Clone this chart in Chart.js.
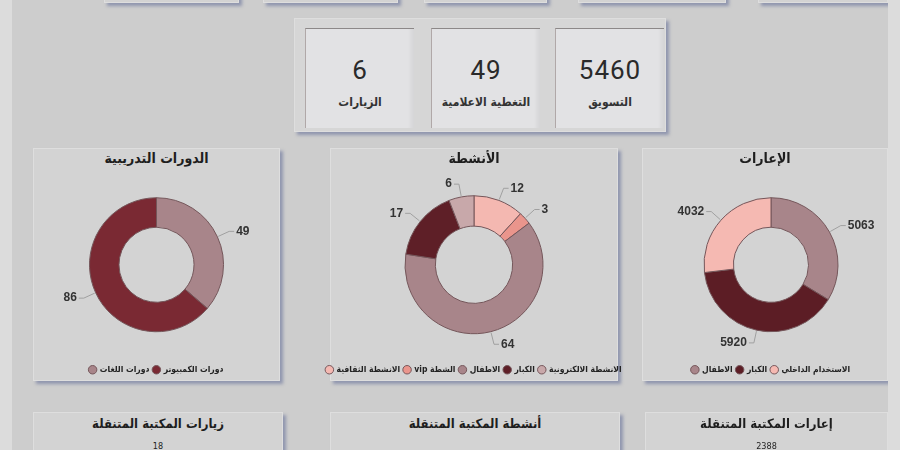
<!DOCTYPE html>
<html lang="ar">
<head>
<meta charset="utf-8">
<script src="https://cdn.jsdelivr.net/npm/chart.js@4"></script>
<style>
  html, body { margin: 0; padding: 0; }
  body { width: 900px; height: 450px; background: #dcdcdc; position: relative; overflow: hidden; font-family: Arial, "Liberation Sans", "DejaVu Sans", sans-serif; }
  #page { position: absolute; left: 12px; top: 0; width: 876px; height: 450px; background: #cdcdcd; overflow: hidden; }
  .card { position: absolute; background: #d3d3d3; border: 1px solid #dedede; box-shadow: 3px 3px 3px rgba(95, 105, 150, 0.55); box-sizing: border-box; }
  .title { position: absolute; left: 0; right: 0; text-align: center; font-weight: bold; color: #1e1e1e; direction: rtl; font-family: "DejaVu Sans Condensed", "DejaVu Sans", sans-serif; }
  .kpi { position: absolute; top: 27px; height: 100px; background: #e2e2e4; border-top: 1px solid #8c8888; border-left: 1px solid #b0a8a8; box-shadow: inset -7px 0 4px -4px rgba(0,0,0,0.06); box-sizing: border-box; }
  .kpi .num { position: absolute; left: 0; right: 0; top: 26px; text-align: center; font-family: Roboto, "DejaVu Sans Condensed", sans-serif; font-size: 26px; letter-spacing: 1px; color: #2a2a2a; line-height: 30px; }
  .kpi .lbl { position: absolute; left: 0; right: 0; top: 66px; text-align: center; font-size: 12px; font-weight: bold; color: #333; direction: rtl; font-family: "DejaVu Sans Condensed", "DejaVu Sans", sans-serif; }
  canvas { position: absolute; top: 0; }
</style>
</head>
<body>
<div id="page"></div>
<script>
// Library dashboard: KPI tiles plus three doughnut panels (loans, activities, courses).

const kpiValues = [6, 49, 5460];
const kpiLabels = ["الزيارات", "التغطية الاعلامية", "التسويق"];

const courseLabels = ["دورات اللغات", "دورات الكمبيوتر"];
const courseValues = [49, 86];
const courseColors = ["#a8858a", "#7a2933"];

const activityLabels = ["الانشطة الثقافية", "vip الشطة", "الاطفال", "الكبار", "الانشطة الالكترونية"];
const activityValues = [12, 3, 64, 17, 6];
const activityColors = ["#f4b8b1", "#ea958c", "#a8858a", "#5e1f27", "#c8a8aa"];

const loanLabels = ["الاطفال", "الكبار", "الاستخدام الداخلي"];
const loanValues = [5063, 5920, 4032];
const loanColors = ["#a8858a", "#5c1d25", "#f5b9b2"];

const bottomTitles = ["زيارات المكتبة المتنقلة", "أنشطة المكتبة المتنقلة", "إعارات المكتبة المتنقلة"];
const bottomValues = ["18", "", "2388"];

Chart.defaults.animation = false;
Chart.defaults.font.family = "Arial, 'Liberation Sans', 'DejaVu Sans', sans-serif";

const page = document.getElementById("page");
const PX = 12; // page offset from window left
const BLEED = 30; // canvas overhang on each side so the legend keeps one row

function box(x, y, w, h, cls) {
  const d = document.createElement("div");
  d.className = cls || "card";
  d.style.left = x - PX + "px";
  d.style.top = y + "px";
  d.style.width = w + "px";
  d.style.height = h + "px";
  page.appendChild(d);
  return d;
}

// top row cards, cut off by the window edge
[[104, 135], [263, 135], [424, 123], [578, 148], [758, 130]].forEach(([x, w]) => box(x, -30, w, 33));

// KPI group
const panel = box(294, 18, 372, 114);
panel.style.background = "#d6d6d6";
const kpiX = [304, 430, 554];
kpiValues.forEach((v, i) => {
  const k = document.createElement("div");
  k.className = "kpi";
  k.style.left = kpiX[i] - 294 + "px";
  k.style.top = "9px";
  k.style.width = "109px";
  k.innerHTML = `<div class="num">${v}</div><div class="lbl">${kpiLabels[i]}</div>`;
  panel.appendChild(k);
});

// leader-line value labels outside each slice
const leaderLabels = {
  id: "leaderLabels",
  afterDatasetsDraw(chart) {
    const ctx = chart.ctx;
    const values = chart.data.datasets[0].data;
    ctx.save();
    ctx.font = "bold 12px Arial, 'Liberation Sans', sans-serif";
    ctx.textBaseline = "middle";
    chart.getDatasetMeta(0).data.forEach((arc, i) => {
      const { x, y, startAngle, endAngle, outerRadius } = arc.getProps(["x", "y", "startAngle", "endAngle", "outerRadius"], true);
      const mid = (startAngle + endAngle) / 2;
      const c = Math.cos(mid), s = Math.sin(mid);
      const dir = c >= 0 ? 1 : -1;
      const x0 = x + c * (outerRadius + 1), y0 = y + s * (outerRadius + 1);
      const x1 = x + c * (outerRadius + 13), y1 = y + s * (outerRadius + 13);
      const x2 = x1 + dir * 5;
      ctx.strokeStyle = "#a0a0a0";
      ctx.lineWidth = 1;
      ctx.beginPath();
      ctx.moveTo(x0, y0);
      ctx.lineTo(x1, y1);
      ctx.lineTo(x2, y1);
      ctx.stroke();
      ctx.fillStyle = "#333";
      ctx.textAlign = dir > 0 ? "left" : "right";
      ctx.fillText(values[i], x2 + dir * 2, y1);
    });
    ctx.restore();
  },
};

function donutCard(x, w, title, labels, values, colors, radius, padLeft) {
  const card = box(x, 148, w, 233);
  card.style.overflow = "visible";
  const t = document.createElement("div");
  t.className = "title";
  t.style.top = "1px";
  t.style.fontSize = "14px";
  t.textContent = title;
  card.appendChild(t);
  const cv = document.createElement("canvas");
  cv.width = w - 2 + 2 * BLEED;
  cv.height = 235;
  cv.style.left = -BLEED + "px";
  card.appendChild(cv);
  new Chart(cv, {
    type: "doughnut",
    data: { labels, datasets: [{ data: values, backgroundColor: colors, borderColor: "#74565a", borderWidth: 1 }] },
    options: {
      responsive: false,
      radius: radius,
      cutout: "56%",
      layout: { padding: { top: 19, left: padLeft, right: 0, bottom: 0 } },
      plugins: {
        legend: {
          position: "bottom",
          labels: {
            usePointStyle: true, pointStyle: "circle", boxWidth: 6, boxHeight: 6, padding: 4, color: "#222",
            font: { size: 8.5, weight: "bold", family: "'DejaVu Sans Condensed', 'DejaVu Sans', sans-serif" },
          },
        },
        tooltip: { enabled: false },
      },
    },
    plugins: [leaderLabels],
  });
}

donutCard(33, 247, "الدورات التدريبية", courseLabels, courseValues, courseColors, 67, 0);
donutCard(330, 288, "الأنشطة", activityLabels, activityValues, activityColors, 69, 0);
donutCard(642, 246, "الإعارات", loanLabels, loanValues, loanColors, 67, 12);

// bottom row, cut off by the window edge
[[33, 250], [330, 290], [645, 243]].forEach(([x, w], i) => {
  const card = box(x, 412, w, 80);
  const t = document.createElement("div");
  t.className = "title";
  t.style.top = "3px";
  t.style.fontSize = "13px";
  t.textContent = bottomTitles[i];
  card.appendChild(t);
  const n = document.createElement("div");
  n.className = "title";
  n.style.top = "28px";
  n.style.fontSize = "9px";
  n.style.fontWeight = "normal";
  n.textContent = bottomValues[i];
  card.appendChild(n);
});
</script>
</body>
</html>
